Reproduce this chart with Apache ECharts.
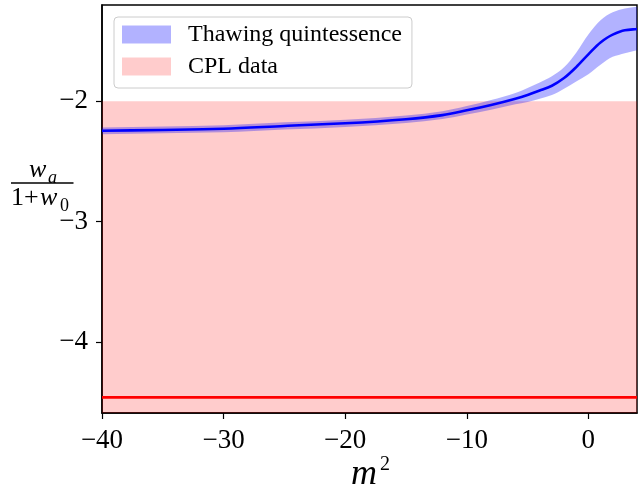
<!DOCTYPE html>
<html>
<head>
<meta charset="utf-8">
<script src="https://cdn.jsdelivr.net/npm/echarts@6/dist/echarts.min.js"></script>
<style>
  html, body { margin: 0; padding: 0; background: #ffffff; }
  #chart { width: 641px; height: 489px; }
</style>
</head>
<body>
<div id="chart"></div>
<script>
// m^2 sample points for the thawing quintessence curve
const m2 = [-40, -35, -30, -25, -20, -15, -12, -10, -8, -6, -5, -4, -3, -2, -1, 0, 1, 2, 3, 4];
// central value of w_a / (1 + w_0)
const ratioMid = [-2.245, -2.238, -2.228, -2.205, -2.183, -2.149, -2.115, -2.075, -2.03, -1.978,
                  -1.947, -1.911, -1.871, -1.807, -1.716, -1.610, -1.511, -1.446, -1.410, -1.399];
// upper and lower edges of the uncertainty band
const ratioHigh = [-2.217, -2.21, -2.199, -2.175, -2.153, -2.118, -2.082, -2.04, -1.99, -1.931,
                   -1.889, -1.843, -1.792, -1.717, -1.596, -1.445, -1.326, -1.261, -1.23, -1.215];
const ratioLow = [-2.273, -2.266, -2.257, -2.235, -2.213, -2.18, -2.148, -2.11, -2.07, -2.025,
                  -2.005, -1.979, -1.948, -1.896, -1.836, -1.775, -1.696, -1.631, -1.60, -1.575];
// CPL constraint: shaded region up to its upper bound, line at its lower value
const cplUpper = -2.0;
const cplLine = -4.46;
const xRange = [-40, 4];
const yRange = [-4.59, -1.2];
const xTicks = [-40, -30, -20, -10, 0];
const yTicks = [-4, -3, -2];

const serif = 'Liberation Serif';
const minus = v => String(v).replace('-', '\u2212');

// Monotone cubic (Fritsch–Carlson) Bezier control points through pixel points
function monotoneSegments(pts) {
  const n = pts.length;
  const dx = [], s = [];
  for (let i = 0; i < n - 1; i++) {
    dx.push(pts[i + 1][0] - pts[i][0]);
    s.push((pts[i + 1][1] - pts[i][1]) / dx[i]);
  }
  const m = new Array(n);
  m[0] = s[0];
  m[n - 1] = s[n - 2];
  for (let i = 1; i < n - 1; i++) {
    if (s[i - 1] * s[i] <= 0) { m[i] = 0; continue; }
    const w1 = 2 * dx[i] + dx[i - 1], w2 = dx[i] + 2 * dx[i - 1];
    m[i] = (w1 + w2) / (w1 / s[i - 1] + w2 / s[i]);
  }
  const segs = [];
  for (let i = 0; i < n - 1; i++) {
    const h = dx[i] / 3;
    segs.push({
      c1: [pts[i][0] + h, pts[i][1] + m[i] * h],
      c2: [pts[i + 1][0] - h, pts[i + 1][1] - m[i + 1] * h],
      p0: pts[i], p1: pts[i + 1]
    });
  }
  return segs;
}
const f = p => p[0].toFixed(2) + ' ' + p[1].toFixed(2);
function forwardPath(segs) {
  return segs.map(g => 'C' + f(g.c1) + ' ' + f(g.c2) + ' ' + f(g.p1)).join(' ');
}
function backwardPath(segs) {
  const out = [];
  for (let i = segs.length - 1; i >= 0; i--) {
    const g = segs[i];
    out.push('C' + f(g.c2) + ' ' + f(g.c1) + ' ' + f(g.p0));
  }
  return out.join(' ');
}

function renderBand(params, api) {
  if (params.dataIndex !== 0) return;
  const up = m2.map((x, i) => api.coord([x, ratioHigh[i]]));
  const lo = m2.map((x, i) => api.coord([x, ratioLow[i]]));
  const su = monotoneSegments(up), sl = monotoneSegments(lo);
  const d = 'M' + f(up[0]) + ' ' + forwardPath(su) + ' L' + f(lo[lo.length - 1]) + ' ' + backwardPath(sl) + ' Z';
  return {
    type: 'path',
    shape: { pathData: d },
    style: { fill: 'rgba(0,0,255,0.3)', stroke: null }
  };
}

function renderMid(params, api) {
  if (params.dataIndex !== 0) return;
  const pts = m2.map((x, i) => api.coord([x, ratioMid[i]]));
  const d = 'M' + f(pts[0]) + ' ' + forwardPath(monotoneSegments(pts));
  return {
    type: 'path',
    shape: { pathData: d },
    style: { fill: null, stroke: '#0000ff', lineWidth: 2.6 }
  };
}

const chart = echarts.init(document.getElementById('chart'), null, { renderer: 'canvas' });

chart.setOption({
  animation: false,
  backgroundColor: '#ffffff',
  grid: {
    left: 102, right: 4, top: 5, bottom: 76,
    show: true, borderColor: '#000000', borderWidth: 1.5, backgroundColor: 'transparent'
  },
  xAxis: {
    type: 'value', min: xRange[0], max: xRange[1],
    splitLine: { show: false },
    axisLine: { show: true, onZero: false, lineStyle: { color: '#000', width: 1.5 } },
    axisTick: { show: true, length: 6, lineStyle: { color: '#000', width: 1.2 }, customValues: xTicks },
    axisLabel: {
      customValues: xTicks, formatter: minus, color: '#000',
      fontFamily: serif, fontSize: 27, margin: 14
    }
  },
  yAxis: {
    type: 'value', min: yRange[0], max: yRange[1],
    splitLine: { show: false },
    axisLine: { show: true, onZero: false, lineStyle: { color: '#000', width: 1.5 } },
    axisTick: { show: true, length: 6, lineStyle: { color: '#000', width: 1.2 }, customValues: yTicks },
    axisLabel: {
      customValues: yTicks, formatter: minus, color: '#000',
      fontFamily: serif, fontSize: 27, margin: 14
    }
  },
  legend: {
    orient: 'vertical', left: 114, top: 17,
    itemWidth: 49, itemHeight: 18, itemGap: 6,
    padding: [4.5, 10, 8.5, 8],
    backgroundColor: 'rgba(255,255,255,0.85)',
    borderColor: '#cccccc', borderWidth: 1, borderRadius: 4,
    textStyle: { fontFamily: serif, fontSize: 24, color: '#000', lineHeight: 26, padding: [0, 0, 0, 12] },
    data: [
      { name: 'Thawing quintessence', icon: 'rect', itemStyle: { color: 'rgba(0,0,255,0.3)' } },
      { name: 'CPL data', icon: 'rect', itemStyle: { color: 'rgba(255,0,0,0.2)' } }
    ]
  },
  series: [
    {
      name: 'CPL data', type: 'line', showSymbol: false, silent: true,
      data: [[xRange[0], cplUpper], [xRange[1], cplUpper]],
      itemStyle: { color: 'rgba(255,0,0,0.2)' },
      lineStyle: { width: 0, opacity: 0 },
      areaStyle: { origin: 'start', color: 'rgba(255,0,0,0.2)', opacity: 1 },
      z: 1
    },
    {
      name: 'Thawing quintessence', type: 'custom', silent: true, clip: true,
      renderItem: renderBand,
      data: [[m2[0], ratioMid[0]]],
      itemStyle: { color: 'rgba(0,0,255,0.3)' },
      z: 2
    },
    {
      name: 'central', type: 'custom', silent: true, clip: true,
      renderItem: renderMid,
      data: [[m2[0], ratioMid[0]]],
      itemStyle: { color: '#0000ff' },
      z: 3
    },
    {
      name: 'cpl-line', type: 'line', showSymbol: false, silent: true,
      data: [[xRange[0], cplLine], [xRange[1], cplLine]],
      lineStyle: { color: '#ff0000', width: 2.6 },
      itemStyle: { color: '#ff0000' },
      z: 4
    }
  ],
  graphic: [
    // y-axis label: w_a / (1 + w_0)
    { type: 'text', left: 29, top: 157, style: { text: 'w', font: 'italic 26px "Liberation Serif"', fill: '#000' } },
    { type: 'text', left: 48, top: 169, style: { text: 'a', font: 'italic 18px "Liberation Serif"', fill: '#000' } },
    { type: 'line', shape: { x1: 11, y1: 183, x2: 73.5, y2: 183 }, style: { stroke: '#000', lineWidth: 1.4 } },
    { type: 'text', left: 11, top: 185, style: { text: '1+', font: '26px "Liberation Serif"', fill: '#000' } },
    { type: 'text', left: 40, top: 185, style: { text: 'w', font: 'italic 26px "Liberation Serif"', fill: '#000' } },
    { type: 'text', left: 60, top: 197, style: { text: '0', font: '18px "Liberation Serif"', fill: '#000' } },
    // x-axis label: m^2
    { type: 'text', left: 351, top: 457, style: { text: 'm', font: 'italic 36px "Liberation Serif"', fill: '#000' } },
    { type: 'text', left: 380, top: 455, style: { text: '2', font: '20px "Liberation Serif"', fill: '#000' } }
  ]
});
</script>
</body>
</html>
